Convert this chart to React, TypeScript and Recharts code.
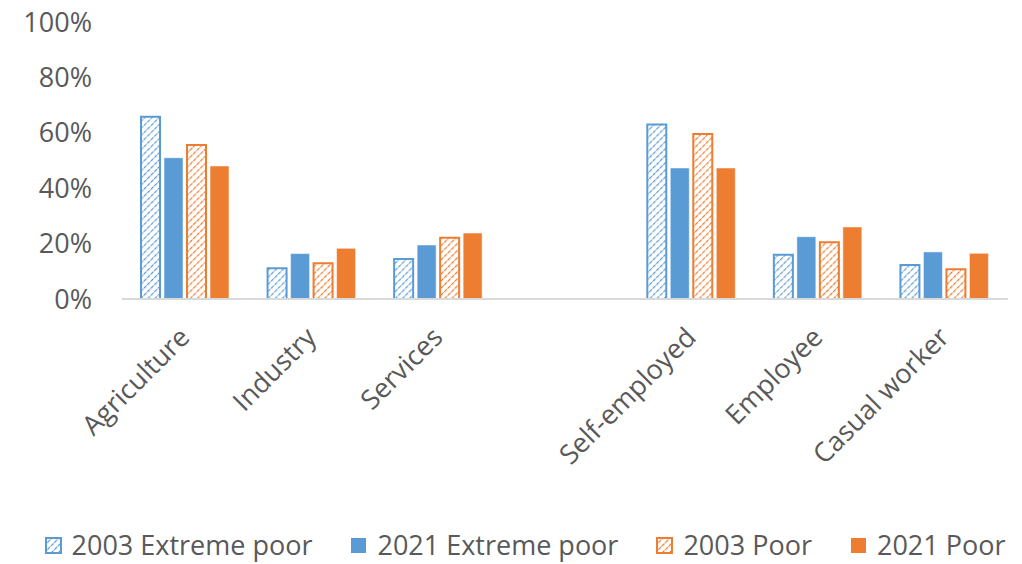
import React from "react";
import { BarChart, Bar, XAxis, YAxis } from "recharts";

// Share of workers by sector and employment type (%)
const categories = [
  "Agriculture",
  "Industry",
  "Services",
  "",
  "Self-employed",
  "Employee",
  "Casual worker",
];

const extremePoor2003 = [65.8, 11.1, 14.4, null, 63.0, 16.0, 12.3];
const extremePoor2021 = [51.0, 16.4, 19.5, null, 47.3, 22.5, 17.0];
const poor2003 = [55.6, 12.9, 22.1, null, 59.6, 20.5, 10.7];
const poor2021 = [48.0, 18.3, 23.8, null, 47.3, 26.0, 16.5];

const yTicks = [0, 20, 40, 60, 80, 100];

const BLUE = "#5B9BD5";
const ORANGE = "#ED7D31";
const TEXT = "#595959";
const FONT = "'Open Sans', sans-serif";

const series = [
  { key: "ep2003", label: "2003 Extreme poor", color: BLUE, hatched: true, values: extremePoor2003 },
  { key: "ep2021", label: "2021 Extreme poor", color: BLUE, hatched: false, values: extremePoor2021 },
  { key: "p2003", label: "2003 Poor", color: ORANGE, hatched: true, values: poor2003 },
  { key: "p2021", label: "2021 Poor", color: ORANGE, hatched: false, values: poor2021 },
];

const data = categories.map((name, i) => {
  const row: Record<string, any> = { name };
  series.forEach((s) => {
    row[s.key] = s.values[i];
  });
  return row;
});

// diagonal "/" stripes on white, used for the 2003 series
const Hatch = ({ id, color }: { id: string; color: string }) => (
  <pattern
    id={id}
    width={5}
    height={5}
    patternUnits="userSpaceOnUse"
    patternTransform="rotate(45)"
  >
    <rect width={5} height={5} fill="#fff" />
    <line x1={0} y1={0} x2={0} y2={5} stroke={color} strokeWidth={2.4} strokeDasharray="2.5 1" />
  </pattern>
);

const CategoryTick = ({ x, y, payload }: any) => (
  <text
    x={0}
    y={0}
    transform={`translate(${x + 6},${y + 38}) rotate(-45)`}
    textAnchor="end"
    fill={TEXT}
    fontSize={27}
    fontFamily={FONT}
  >
    {payload.value}
  </text>
);

const LegendIcon = ({ color, hatched, id }: any) => (
  <svg width={17} height={17} style={{ display: "block" }}>
    {hatched && (
      <defs>
        <Hatch id={id} color={color} />
      </defs>
    )}
    <rect
      x={1}
      y={1}
      width={15}
      height={15}
      fill={hatched ? `url(#${id})` : color}
      stroke={color}
      strokeWidth={hatched ? 2 : 0}
    />
  </svg>
);

export default function App() {
  return (
    <div
      style={{
        position: "fixed",
        left: 0,
        top: 0,
        width: 1022,
        height: 564,
        background: "#fff",
        overflow: "hidden",
      }}
    >
      <BarChart
        width={1022}
        height={564}
        data={data}
        margin={{ top: 22, right: 14, left: 0, bottom: 65 }}
        barSize={19}
        barGap={4}
      >
        <defs>
          <Hatch id="hatch-blue" color={BLUE} />
          <Hatch id="hatch-orange" color={ORANGE} />
        </defs>
        <XAxis
          dataKey="name"
          interval={0}
          height={200}
          tickLine={false}
          tickSize={0}
          axisLine={{ stroke: "#D9D9D9", strokeWidth: 2 }}
          tick={<CategoryTick />}
        />
        <YAxis
          domain={[0, 100]}
          ticks={yTicks}
          width={122}
          axisLine={false}
          tickLine={false}
          tickSize={0}
          tickMargin={30}
          tickFormatter={(v) => `${v}%`}
          tick={{ fill: TEXT, fontSize: 27, fontFamily: FONT }}
        />
        {series.map((s) => (
          <Bar
            key={s.key}
            dataKey={s.key}
            isAnimationActive={false}
            fill={
              s.hatched
                ? `url(#${s.color === BLUE ? "hatch-blue" : "hatch-orange"})`
                : s.color
            }
            stroke={s.hatched ? s.color : "#ffffff"}
            strokeOpacity={s.hatched ? 1 : 0.5}
            strokeWidth={s.hatched ? 2 : 1}
          />
        ))}
      </BarChart>
      <div
        style={{
          position: "absolute",
          left: 0,
          top: 526,
          width: 1022,
          height: 38,
          boxSizing: "border-box",
          paddingLeft: 28,
          display: "flex",
          justifyContent: "center",
          alignItems: "center",
          gap: 38,
          fontFamily: FONT,
          fontSize: 27,
          color: TEXT,
          whiteSpace: "nowrap",
        }}
      >
        {series.map((s) => (
          <div key={s.key} style={{ display: "flex", alignItems: "center", gap: 10 }}>
            <LegendIcon color={s.color} hatched={s.hatched} id={`legend-${s.key}`} />
            <span style={{ lineHeight: "38px" }}>{s.label}</span>
          </div>
        ))}
      </div>
    </div>
  );
}
